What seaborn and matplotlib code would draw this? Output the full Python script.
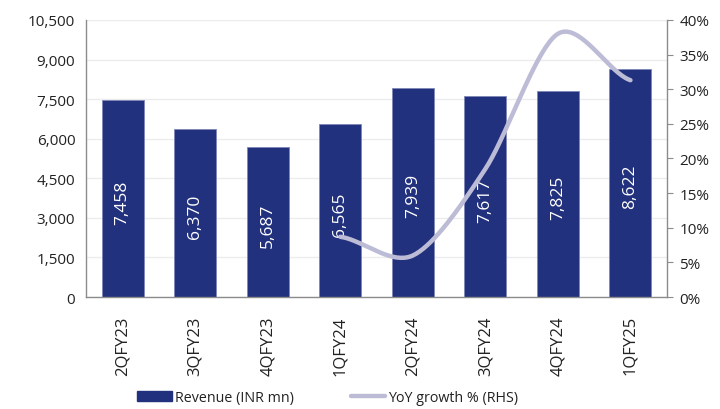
import numpy as np
import pandas as pd
import matplotlib
matplotlib.use("Agg")
import matplotlib.pyplot as plt
import seaborn as sns
from matplotlib.ticker import FuncFormatter
from matplotlib.patches import Patch
from matplotlib.lines import Line2D

quarters = ["2QFY23", "3QFY23", "4QFY23", "1QFY24", "2QFY24", "3QFY24", "4QFY24", "1QFY25"]
revenue = [7458, 6370, 5687, 6565, 7939, 7617, 7825, 8622]
yoy_quarters = ["1QFY24", "2QFY24", "3QFY24", "4QFY24", "1QFY25"]
yoy_growth = [8.7, 6.0, 18.5, 38.0, 31.3]

left_ticks = [0, 1500, 3000, 4500, 6000, 7500, 9000, 10500]
right_ticks = [0, 5, 10, 15, 20, 25, 30, 35, 40]

sns.set_theme(style="white")
plt.rcParams['font.family'] = ['Open Sans', 'DejaVu Sans']

BAR = "#22317d"
LINE = "#bdbcd6"
SPINE = "#8c8c8c"
TXT = "#222222"

fig = plt.figure(figsize=(7.2, 4.1), dpi=100)
ax = fig.add_axes([0.12, 0.273, 0.806, 0.676])

df = pd.DataFrame({"q": quarters, "rev": revenue})
sns.barplot(data=df, x="q", y="rev", ax=ax, color=BAR, width=0.58, saturation=1,
            edgecolor="#7f87b8", linewidth=0.6, zorder=2)
ax.set_ylim(0, 10500)
ax.set_yticks(left_ticks)
ax.yaxis.set_major_formatter(FuncFormatter(lambda v, p: f"{int(v):,}"))
ax.set_xlim(-0.5, len(quarters) - 0.5)
ax.set_xlabel("")
ax.set_ylabel("")
ax.grid(axis="y", color="#ececec", linewidth=1.0, zorder=0)
ax.set_axisbelow(True)
for s in ["top", "right"]:
    ax.spines[s].set_visible(False)
for s in ["left", "bottom"]:
    ax.spines[s].set_color(SPINE)
    ax.spines[s].set_linewidth(1.0)
ax.tick_params(axis="y", labelsize=11, colors=TXT, length=0, pad=8)
ax.tick_params(axis="x", labelsize=12, colors=TXT, length=0, rotation=90, pad=13)

for i, v in enumerate(revenue):
    ax.text(i, v / 2 - 110, f"{v:,}", rotation=90, ha="center", va="center",
            color="white", fontsize=12.5, zorder=5)

ax2 = ax.twinx()
# smoothed line through the points (Catmull-Rom, like a spreadsheet smoothed line)
xs = np.array([quarters.index(q) for q in yoy_quarters], dtype=float)
ys = np.array(yoy_growth, dtype=float)
px = np.concatenate([[2 * xs[0] - xs[1]], xs, [2 * xs[-1] - xs[-2]]])
py = np.concatenate([[ys[0]], ys, [ys[-1]]])
cx, cy = [], []
t = np.linspace(0, 1, 40)
for k in range(1, len(px) - 2):
    p0, p1, p2, p3 = [np.array([px[j], py[j]]) for j in (k - 1, k, k + 1, k + 2)]
    m1 = (p2 - p0) / 2 * 0.9
    m2 = (p3 - p1) / 2 * 0.9
    h00 = 2 * t**3 - 3 * t**2 + 1
    h10 = t**3 - 2 * t**2 + t
    h01 = -2 * t**3 + 3 * t**2
    h11 = t**3 - t**2
    seg = np.outer(h00, p1) + np.outer(h10, m1) + np.outer(h01, p2) + np.outer(h11, m2)
    cx.extend(seg[:, 0]); cy.extend(seg[:, 1])
sns.lineplot(x=cx, y=cy, ax=ax2, color=LINE, linewidth=3.2, sort=False,
             solid_capstyle="round", zorder=4)
ax2.set_ylim(0, 40)
ax2.set_yticks(right_ticks)
ax2.yaxis.set_major_formatter(FuncFormatter(lambda v, p: f"{int(v)}%"))
for s in ["top", "left", "bottom"]:
    ax2.spines[s].set_visible(False)
ax2.spines["right"].set_color(SPINE)
ax2.spines["right"].set_linewidth(1.0)
ax2.tick_params(axis="y", labelsize=11, colors=TXT, length=4, width=0.8,
                color=SPINE, pad=5)
ax2.set_ylabel("")
ax2.grid(False)

handles = [Patch(facecolor=BAR, edgecolor=BAR),
           Line2D([0], [0], color=LINE, linewidth=3.2)]
fig.legend(handles, ["Revenue (INR mn)", "YoY growth % (RHS)"], loc="lower center",
           bbox_to_anchor=(0.455, -0.022), ncol=2, frameon=False, fontsize=10.3,
           handlelength=2.4, handleheight=0.7, handletextpad=0.2, columnspacing=4.0,
           labelcolor=TXT)

fig.savefig("out.png", dpi=100)
